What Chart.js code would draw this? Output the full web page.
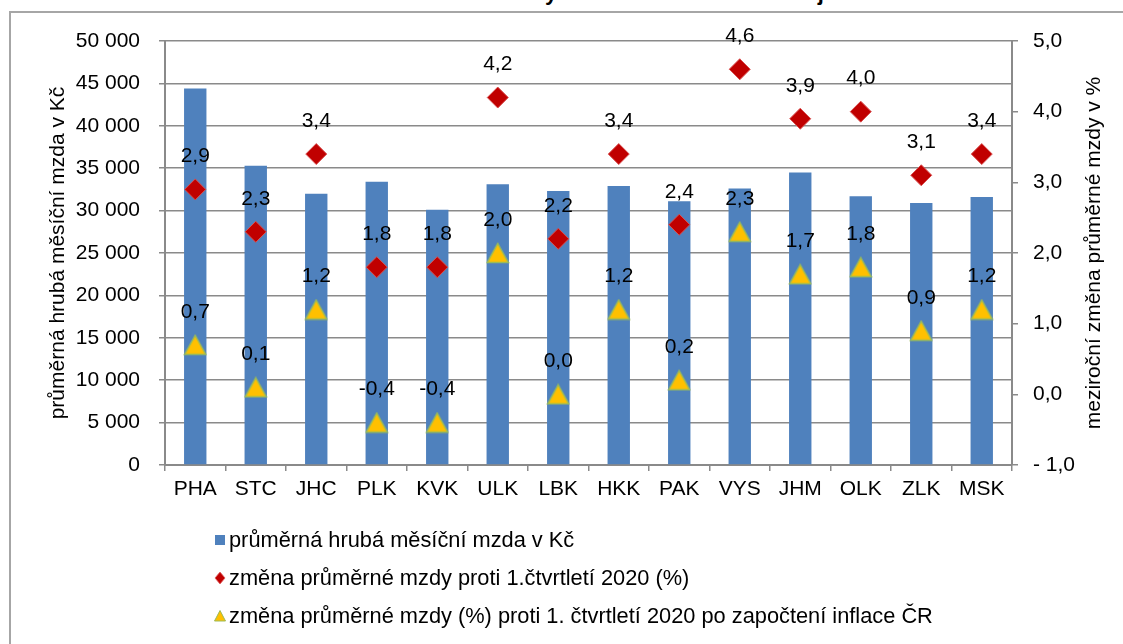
<!DOCTYPE html>
<html>
<head>
<meta charset="utf-8">
<script src="https://cdn.jsdelivr.net/npm/chart.js"></script>
<style>
    body { margin: 0; background: #fff; font-family: "Liberation Sans", Arial, sans-serif; }
    #wrap { position: relative; width: 1123px; height: 644px; overflow: hidden; background: #fff; }
    #title { position: absolute; left: 12px; top: -18px; font-weight: bold; font-size: 22px; line-height: 22px; white-space: nowrap; color: #000; }
    #frame { position: absolute; left: 9px; top: 11px; width: 1300px; height: 800px; border-left: 2px solid #a6a6a6; border-top: 2px solid #a6a6a6; }
    #chartBox { position: absolute; left: 0; top: 0; width: 1123px; height: 644px; }
    #legend { position: absolute; left: 213px; top: 521px; font-size: 21.8px; color: #000; }
    #legend .item { height: 38px; display: flex; align-items: center; white-space: nowrap; }
    #legend svg { width: 14px; height: 14px; margin-right: 2px; }
</style>
</head>
<body>
<div id="wrap">
    <div id="title">Graf 6 Průměrná hrubá měsíční mzda a změna mzdy v 1. čtvrtletí 2021 dle krajů</div>
    <div id="frame"></div>
    <div id="chartBox"><canvas id="chart"></canvas></div>
    <div id="legend">
        <div class="item"><svg viewBox="0 0 14 14"><rect x="2" y="2" width="10" height="10" fill="#4F81BD"/></svg>průměrná hrubá měsíční mzda v Kč</div>
        <div class="item"><svg viewBox="0 0 14 14"><polygon points="7,1 12,7 7,13 2,7" fill="#C00000" stroke="#E06060" stroke-width="0.8"/></svg>změna průměrné mzdy proti 1.čtvrtletí 2020 (%)</div>
        <div class="item"><svg viewBox="0 0 14 14"><polygon points="7,1.5 12.5,12 1.5,12" fill="#FFC000" stroke="#9BBB59" stroke-width="1"/></svg>změna průměrné mzdy (%) proti 1. čtvrtletí 2020 po započtení inflace ČR</div>
    </div>
</div>
<script>
// data
const regions = ['PHA', 'STC', 'JHC', 'PLK', 'KVK', 'ULK', 'LBK', 'HKK', 'PAK', 'VYS', 'JHM', 'OLK', 'ZLK', 'MSK'];
const avgWage = [44400, 35300, 32000, 33400, 30100, 33100, 32300, 32900, 31100, 32600, 34500, 31700, 30900, 31600];
const wageChange = [2.9, 2.3, 3.4, 1.8, 1.8, 4.2, 2.2, 3.4, 2.4, 4.6, 3.9, 4.0, 3.1, 3.4];
const realChange = [0.7, 0.1, 1.2, -0.4, -0.4, 2.0, 0.0, 1.2, 0.2, 2.3, 1.7, 1.8, 0.9, 1.2];

const leftTitle = 'průměrná hrubá měsíční mzda v Kč';
const rightTitle = 'meziroční změna průměrné mzdy v %';

const FONT = '"Liberation Sans", Arial, sans-serif';
const GRID = '#8a8a8a';

function fmtThousands(v) {
    return String(v).replace(/\B(?=(\d{3})+(?!\d))/g, ' ');
}
function fmtPct(v) {
    if (v < 0) return '- ' + Math.abs(v).toFixed(1).replace('.', ',');
    return v.toFixed(1).replace('.', ',');
}

// triangle marker as an image, so it is centred on its box like in Excel
function makeTriangle() {
    const c = document.createElement('canvas');
    c.width = 24;
    c.height = 22;
    const g = c.getContext('2d');
    g.beginPath();
    g.moveTo(12, 1.5);
    g.lineTo(22.5, 20.5);
    g.lineTo(1.5, 20.5);
    g.closePath();
    g.fillStyle = '#FFC000';
    g.fill();
    g.lineWidth = 1.5;
    g.strokeStyle = '#9BBB59';
    g.stroke();
    return c;
}

// value labels above the markers + rotated axis titles
const extras = {
    id: 'extras',
    afterDatasetsDraw(chart) {
        const ctx = chart.ctx;
        ctx.save();
        ctx.font = '21px ' + FONT;
        ctx.fillStyle = '#000';
        ctx.textAlign = 'center';
        ctx.textBaseline = 'middle';
        [1, 2].forEach(i => {
            const ds = chart.data.datasets[i];
            chart.getDatasetMeta(i).data.forEach((pt, j) => {
                ctx.fillText(ds.data[j].toFixed(1).replace('.', ','), pt.x, pt.y - 33);
            });
        });
        const area = chart.chartArea;
        const midY = (area.top + area.bottom) / 2;
        [[58, leftTitle], [1094, rightTitle]].forEach(([x, text]) => {
            ctx.save();
            ctx.translate(x, midY);
            ctx.rotate(-Math.PI / 2);
            ctx.fillText(text, 0, 0);
            ctx.restore();
        });
        ctx.restore();
    }
};

new Chart(document.getElementById('chart'), {
    data: {
        labels: regions,
        datasets: [
            {
                type: 'bar',
                label: 'průměrná hrubá měsíční mzda v Kč',
                data: avgWage,
                yAxisID: 'y',
                backgroundColor: '#4F81BD',
                categoryPercentage: 1,
                barPercentage: 0.37,
                order: 3
            },
            {
                type: 'line',
                label: 'změna průměrné mzdy proti 1.čtvrtletí 2020 (%)',
                data: wageChange,
                yAxisID: 'y1',
                showLine: false,
                pointStyle: 'rectRot',
                pointRadius: 10.5,
                backgroundColor: '#C00000',
                borderColor: '#D85050',
                borderWidth: 1,
                order: 2
            },
            {
                type: 'line',
                label: 'změna průměrné mzdy (%) proti 1. čtvrtletí 2020 po započtení inflace ČR',
                data: realChange,
                yAxisID: 'y1',
                showLine: false,
                pointStyle: makeTriangle(),
                pointRadius: 12,
                backgroundColor: '#FFC000',
                borderColor: '#9BBB59',
                order: 1
            }
        ]
    },
    options: {
        responsive: true,
        maintainAspectRatio: false,
        animation: false,
        layout: { padding: { top: 41, left: 0, right: 0, bottom: 0 } },
        plugins: {
            legend: { display: false },
            tooltip: { enabled: false }
        },
        scales: {
            x: {
                afterFit(scale) { scale.height = 179; },
                grid: { offset: true, drawOnChartArea: false, color: GRID, lineWidth: 1.5, tickLength: 6 },
                border: { color: GRID, width: 2 },
                ticks: { color: '#000', font: { family: FONT, size: 21 }, padding: 6, maxRotation: 0 }
            },
            y: {
                position: 'left',
                min: 0,
                max: 50000,
                afterFit(scale) { scale.width = 165; },
                ticks: { stepSize: 5000, color: '#000', font: { family: FONT, size: 21 }, padding: 19, callback: v => fmtThousands(v) },
                grid: { color: GRID, lineWidth: 1.5, tickLength: 6 },
                border: { color: GRID, width: 2 }
            },
            y1: {
                position: 'right',
                min: -1,
                max: 5,
                afterFit(scale) { scale.width = 111; },
                ticks: { stepSize: 1, color: '#000', font: { family: FONT, size: 21 }, padding: 15, callback: v => fmtPct(v) },
                grid: { drawOnChartArea: false, color: GRID, lineWidth: 1.5, tickLength: 6 },
                border: { color: GRID, width: 2 }
            }
        }
    },
    plugins: [extras]
});
</script>
</body>
</html>
